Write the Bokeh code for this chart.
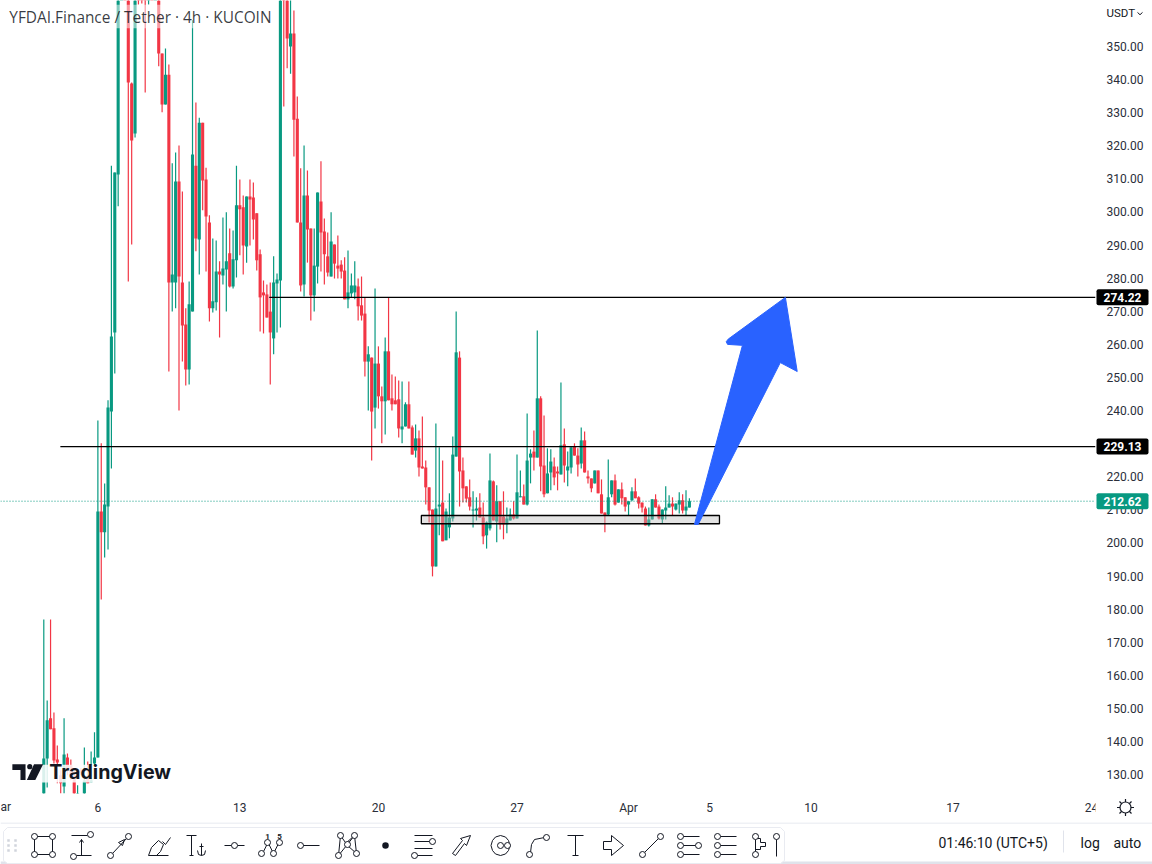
from bokeh.plotting import figure
from bokeh.layouts import column
from bokeh.models import Range1d, LinearAxis, FixedTicker, Label, ColumnDataSource, NumeralTickFormatter
from bokeh.core.properties import value
from bokeh.embed import file_html
from bokeh.resources import INLINE

body_top = [
134.9,146.4,147.0,144.0,134.6,129.8,136.1,135.2,132.8,129.8,
123.7,131.3,128.3,128.9,128.3,135.2,209.5,209.5,211.6,240.9,
262.4,311.9,370,385,385,372,338.8,368,380,378,
372,374,378,376,370,347.9,341.5,341.5,281.1,309.2,
309.2,278.7,266.0,272.1,317.4,314.0,327.0,327.0,309.8,296.8,
273.0,282.0,282.0,282.9,285.1,287.5,285.7,302.0,302.0,301.4,
304.7,304.7,304.4,299.6,287.2,275.7,275.1,269.9,278.7,279.6,
372,372,368,353.9,353.9,328.2,296.8,305.0,305.0,295.0,
283.8,305.9,303.2,294.1,286.6,291.1,290.2,283.8,284.1,282.3,
275.7,277.8,277.8,277.5,271.8,269.3,257.0,256.0,254.2,254.2,
244.3,257.9,257.9,243.7,243.1,243.4,235.2,241.9,241.9,234.9,
231.6,231.6,223.1,222.8,216.8,210.1,210.4,211.6,212.2,209.5,
207.7,226.7,257.6,256.0,221.9,217.1,213.8,210.1,210.4,210.7,
207.7,206.2,218.9,218.6,212.6,212.6,208.0,207.4,208.6,208.6,
215.3,214.1,214.1,224.9,227.0,227.6,243.7,243.7,223.4,221.0,
224.6,223.1,221.6,229.5,229.8,223.1,228.9,229.2,226.4,231.0,
231.0,220.1,219.5,221.9,221.9,214.7,209.2,213.8,218.9,218.9,
216.2,216.2,213.8,212.6,215.6,215.6,213.8,212.2,210.4,207.1,
213.2,213.2,211.0,210.1,210.7,211.9,211.9,211.9,212.9,212.9,
211.0,212.62]
body_bottom = [
122.2,134.9,143.7,134.3,133.7,127.4,126.4,131.3,129.8,123.7,
122.2,130.4,123.7,127.4,127.7,133.4,135.2,203.2,203.2,211.0,
239.7,263.6,311.3,370,372,339.1,321.6,323.7,366,368,
366,368,368,370,347.9,332.5,332.5,278.7,278.7,278.7,
280.5,265.7,252.4,252.4,269.9,292.0,291.7,309.5,298.6,270.9,
270.9,272.7,281.1,280.8,282.6,277.5,277.5,285.4,300.8,289.9,
289.6,303.8,297.7,285.4,274.2,274.8,268.1,263.6,261.8,278.4,
279.3,368,352.4,350.0,327.9,296.8,277.8,278.1,294.7,274.8,
274.8,283.5,293.8,287.2,281.7,280.5,284.4,282.9,282.0,273.6,
273.6,275.4,275.7,271.5,268.7,254.8,254.8,239.7,240.9,244.3,
242.8,242.8,243.1,241.9,241.9,234.6,234.3,235.2,234.6,226.7,
227.9,222.8,222.5,216.8,209.8,192.9,192.9,211.0,200.5,200.8,
204.7,207.4,226.1,221.6,216.5,213.4,211.0,209.8,209.8,207.7,
202.0,202.3,204.4,206.8,206.5,205.6,205.6,205.6,206.8,207.4,
207.4,213.8,211.6,211.6,225.8,225.8,225.8,223.1,214.7,215.0,
221.3,219.8,221.0,220.7,223.4,221.9,222.8,226.4,223.7,224.0,
221.3,219.5,216.5,218.0,215.0,208.9,208.3,208.6,214.7,211.6,
212.2,213.5,211.0,211.6,212.9,213.5,211.9,210.7,205.3,205.3,
207.1,210.7,207.4,207.1,209.8,210.7,211.0,210.1,211.6,209.8,
209.8,210.7]
highs = [
176.9,152.4,176.9,148.8,138.8,131.3,147.0,136.4,134.6,131.3,
126.8,131.9,138.2,134.0,137.0,142.8,237.0,230.1,218.0,243.1,
314.0,311.9,372,392,395,376,339.1,370,385,384,
380,378,386,380,376,347.9,349.4,344.6,314.7,318.0,
320.1,306.2,270.9,279.0,357.9,333.1,328.5,327.0,313.4,299.0,
292.0,291.4,285.1,298.3,299.9,295.0,294.4,314.0,309.8,305.0,
304.7,309.8,308.9,299.6,288.7,279.3,278.1,278.7,286.6,281.4,
376,376,372,366,360.9,334.9,313.2,320.1,312.5,295.0,
295.0,305.9,315.3,298.0,293.8,299.9,290.2,292.9,285.4,286.3,
288.4,281.4,285.1,279.9,280.5,274.2,259.4,256.0,276.9,259.4,
247.3,262.1,274.2,250.9,250.3,249.1,248.8,242.5,248.8,235.5,
235.8,234.0,238.2,224.9,216.8,210.1,236.1,228.9,224.9,210.4,
215.0,232.2,269.9,257.9,225.8,217.1,219.2,215.6,213.8,215.0,
212.2,206.5,227.0,218.9,217.4,212.6,215.6,210.7,210.4,212.6,
226.7,221.9,217.7,239.1,228.3,234.0,264.2,244.3,238.5,228.6,
228.3,225.8,223.1,248.5,234.6,227.6,228.9,230.1,228.6,234.9,
233.7,221.9,219.5,221.9,221.9,219.2,209.2,225.2,218.9,220.7,
216.2,218.3,213.8,212.6,216.8,219.5,214.1,212.2,211.0,210.7,
213.2,214.7,211.6,210.1,217.1,214.4,213.8,211.9,215.3,214.7,
215.9,213.5]
lows = [
121,126.1,143.7,133.4,127.4,124.3,124.3,129.8,128.3,123.7,
122,129.8,123.7,127.4,127.7,132.8,135.2,182.9,195.6,198.0,
222.5,251.2,301.7,366,368,279.0,290.2,322.5,362.7,363.0,
336.1,362.7,366,366,344.0,330.1,332.5,251.8,269.9,270.9,
240.0,254.8,247.6,247.9,269.9,288.1,281.1,300.5,282.0,266.9,
269.6,270.2,262.1,278.1,269.9,277.2,276.9,280.2,286.9,281.1,
284.7,289.9,291.7,282.3,263.9,263.3,268.1,247.9,257.0,263.6,
265.1,331.9,343.4,341.8,316.8,296.8,276.0,274.5,284.7,267.2,
269.9,278.4,282.0,278.1,280.5,280.5,279.9,279.9,279.9,273.6,
270.9,274.2,273.6,267.2,267.2,250.3,240.0,224.9,234.6,240.6,
230.1,232.8,243.1,240.0,241.9,231.9,230.1,235.2,234.6,226.7,
225.8,220.1,222.5,211.6,206.2,189.9,192.9,202.3,200.5,200.8,
201.4,206.5,226.1,211.0,212.2,212.2,209.8,204.7,206.8,207.7,
199.6,198.3,203.8,206.8,200.2,204.1,201.1,202.9,206.8,207.1,
207.4,213.8,211.6,211.3,218.0,221.9,225.8,215.6,213.8,215.0,
215.9,217.4,215.9,220.7,218.3,217.1,221.0,226.4,220.1,222.5,
221.3,218.0,215.3,218.0,215.0,208.9,203.2,208.3,213.8,211.3,
212.2,211.6,209.5,208.3,212.6,213.5,210.4,209.2,205.3,205.0,
207.1,210.7,207.1,205.9,207.1,210.7,208.3,209.8,208.9,208.9,
208.3,210.7]
direction = ("GGRRRRGRRR" "GRGRGGGRGG" "GGGGRRRGRR" "RGRGRRGRGG" "RRRGGRGRRR"
             "GGRGGRGGRR" "GRRRRRRRGG" "GRRGRRRGRR" "GGRRRGRRRR" "GGGRRRGRGR"
             "RGRRRRGGRR" "GRRRRRGGRG" "GGGRRRRGGR" "RGGRGRRGGR" "GGRGGRGRRG"
             "GRRGRGGRRG" "RRRGRRRGGR" "GRRGGRRRRG" "GRRGGGRGGR" "GG")
assert len(body_top) == len(body_bottom) == len(highs) == len(lows) == len(direction) == 192

price_ticks = [130,140,150,160,170,180,190,200,210,220,230,240,250,260,270,280,290,300,310,320,330,340,350]
time_ticks = {16: "6", 58: "13", 99: "20", 140: "27", 173: "Apr", 197: "5", 227: "10", 269: "17", 310: "24"}
level_high = 274.22
level_mid = 229.13
last_price = 212.62

GREEN, RED = "#089981", "#f23645"
INK = "#131722"
BAR_PX = 3.38
colors = [GREEN if d == "G" else RED for d in direction]
src = ColumnDataSource(dict(x=list(range(192)), top=body_top, bottom=body_bottom,
                            high=highs, low=lows, color=colors))

x0, x1 = -12.81, 311.15
p = figure(width=1152, height=822, x_range=Range1d(x0, x1), y_range=Range1d(124.3, 363.9),
           output_backend="svg", toolbar_location=None, x_axis_location=None, y_axis_location=None,
           min_border_left=0, min_border_top=0, min_border_right=57, min_border_bottom=29,
           outline_line_color=None, frame_align=False)
p.grid.visible = False

yax = LinearAxis(ticker=FixedTicker(ticks=price_ticks), axis_line_color=None,
                 major_tick_line_color=None, minor_tick_line_color=None,
                 major_tick_out=0, major_tick_in=0, minor_tick_out=0, minor_tick_in=0,
                 major_label_text_font="Roboto", major_label_text_font_size="12px",
                 major_label_text_color="#2a2e39", major_label_standoff=11)
yax.formatter = NumeralTickFormatter(format="0.00")
p.add_layout(yax, "right")
xax = LinearAxis(ticker=FixedTicker(ticks=list(time_ticks)), major_label_overrides=time_ticks,
                 axis_line_color=None, major_tick_line_color=None, minor_tick_line_color=None,
                 major_tick_out=0, major_tick_in=0, minor_tick_out=0, minor_tick_in=0,
                 major_label_text_font="Roboto", major_label_text_font_size="12px",
                 major_label_text_color="#2a2e39", major_label_standoff=7)
p.add_layout(xax, "below")

p.segment("x", "high", "x", "low", color="color", line_width=1.2, source=src)
p.vbar(x="x", top="top", bottom="bottom", width=3.1 / BAR_PX, fill_color="color", line_color=None, source=src)

# drawn objects
p.line([x0, x1], [last_price, last_price], line_color=GREEN, line_width=1, line_dash="1 2")
p.line([66.7, x1], [level_high, level_high], line_color="black", line_width=1.2)
p.line([4.9, x1], [level_mid, level_mid], line_color="black", line_width=1.2)
p.quad(left=[111.7], right=[199.9], top=[208.3], bottom=[205.8],
       fill_color="#b8b8b8", fill_alpha=0.4, line_color="black", line_width=1.3)
p.patch([192.5, 206.7, 202.3, 201.9, 202.5, 219.4, 222.9, 217.9, 193.6],
        [205.6, 259.7, 260.0, 260.8, 261.6, 274.2, 251.8, 254.5, 205.6],
        fill_color="#2962ff", line_color="#2962ff", line_width=1)

# legend veil and title
p.quad(left=[-11], right=[68], top=[362.6], bottom=[355.5], fill_color="white", fill_alpha=0.5, line_color=None)
p.add_layout(Label(x=-10.2, y=358.9, text="YFDAI.Finance / Tether · 4h · KUCOIN", text_font="Open Sans",
                   text_font_size="15.4px", text_color=INK, text_alpha=0.85, text_baseline="middle"))

# watermark
p.quad(left=[-9.5], right=[37.5], top=[133], bottom=[127.6], fill_color="white", fill_alpha=0.85, line_color=None)
p.patch([-9.3, -5.4, -5.4, -6.9, -6.9, -9.3], [133.1, 133.1, 128.4, 128.4, 131.4, 131.4], fill_color=INK, line_color=None)
p.patch([-2.9, -0.2, -2.5, -5.0], [133.1, 133.1, 128.4, 128.4], fill_color=INK, line_color=None)
p.scatter([-4.15], [132.4], size=5.2, marker="circle", fill_color=INK, line_color=None)
p.add_layout(Label(x=1.6, y=130.7, text="TradingView", text_font="Inter", text_font_size="19.7px",
                   text_font_style="bold", text_color=INK, text_baseline="middle"))

# --- drawing toolbar strip ---
t = figure(width=1152, height=42, x_range=Range1d(0, 1152), y_range=Range1d(864, 822),
           output_backend="svg", toolbar_location=None, x_axis_location=None, y_axis_location=None,
           min_border_left=0, min_border_right=0, min_border_top=0, min_border_bottom=0,
           outline_line_color=None, frame_align=False)
t.grid.visible = False
t.line([0, 1152], [822.5, 822.5], line_color="#e0e3eb", line_width=1)
t.quad(left=[0], right=[1152], top=[861], bottom=[864], fill_color="#e0e3eb", line_color=None)
t.patch([3, 7, 780, 784, 784, 780, 7, 3], [831, 827, 827, 831, 860, 863, 863, 860],
        fill_color="white", line_color="#e9ebf1", line_width=1)

dots_x = [8, 15, 8, 15, 8, 15]
dots_y = [840, 840, 845, 845, 850, 850]
t.scatter(dots_x, dots_y, size=2.5, marker="square", fill_color="#d1d4dc", line_color=None)

icons = [
 (43, [[(-9,-9),(9,-9),(9,9),(-9,9),(-9,-9)]], [(-9,-9),(9,-9),(9,9),(-9,9)]),
 (81, [[(-10,-10),(6,-10)],[(-5,10),(10,10)],[(0,-6),(0,10)],[(-2,-3),(0,-6),(2,-3)]], [(9,-11),(-8,11)]),
 (119, [[(-7,8),(7,-7)],[(-1,-3),(5,-6),(3,0),(-1,-3)]], [(-9,10),(9,-9)]),
 (158, [[(-10,10),(10,10)],[(-10,10),(-7,2),(0,-5),(5,-1),(2,6),(-2,10)],[(4,-4),(7,-1),(12,-8)]], []),
 (195, [[(-9,-10),(1,-10)],[(-4,-10),(-4,10)],[(-6,10),(-2,10)],[(6,-2),(6,10)],[(2,5),(3,9),(6,10),(9,9),(10,5)],[(4,1),(8,1)]], []),
 (234, [[(-10,0),(-3,0)],[(3,0),(10,0)]], [(0,0)]),
 (270, [[(-7,6),(-3,-2)],[(-2,-2),(2,6)],[(4,6),(8,-2)]], [(-9,8),(-3,-3),(3,8),(9,-3)]),
 (309, [[(-7,0),(10,0)]], [(-9,0)]),
 (347, [[(-7,-10),(-9,10)],[(-7,-10),(0,0),(9,8)],[(7,-10),(-9,10)],[(7,-10),(9,8)],[(-2,-2),(7,-10)]], [(-7,-10),(7,-10),(0,-1),(-9,10),(9,8)]),
 (423, [[(-9,-10),(9,-10)],[(-9,-4),(6,-4)],[(-9,3),(9,3)],[(-6,10),(9,10)]], [(9,-4),(-9,10)]),
 (461, [[(-9,8),(-6,10),(3,-2),(5,0),(9,-10),(-1,-7),(1,-5),(-9,8)]], []),
 (500, [[(-9.5,0),(-8,-5),(-5,-8.5),(0,-10),(5,-8.5),(8,-5),(9.5,0),(8,5),(5,8.5),(0,10),(-5,8.5),(-8,5),(-9.5,0)]], [(0,0),(7,0)]),
 (538, [[(-8,7),(-7,-1),(-4,-6),(6,-8)]], [(-9,9),(8,-8)]),
 (575, [[(-8,-10),(8,-10)],[(0,-10),(0,10)],[(-3,10),(3,10)]], []),
 (613, [[(-10,-4),(-2,-4),(-2,-10),(10,0),(-2,10),(-2,4),(-10,4),(-10,-4)]], []),
 (651, [[(-7,7),(7,-7)]], [(-9,9),(9,-9)]),
 (689, [[(-6,-9),(10,-9)],[(-6,0),(6,0)],[(-6,9),(10,9)]], [(-9,-9),(-9,0),(9,0),(-9,9)]),
 (726, [[(-6,-9),(10,-9)],[(-6,0),(10,0)],[(-6,9),(10,9)]], [(-9,-9),(-9,0),(-9,9)]),
 (757, [[(-2,-6),(-2,6)],[(-2,-7),(3,-7),(3,-3),(8,-3),(8,1),(3,1),(3,4),(-2,4)]], [(-2,-9),(-2,9)]),
 (776, [[(0,-6),(0,11)]], [(0,-9)]),
]
ICON_Y = 845
lx, ly, cx, cy = [], [], [], []
for ox, paths, circles in icons:
    for path in paths:
        lx.append([ox + a for a, b in path])
        ly.append([ICON_Y + b for a, b in path])
    for a, b in circles:
        cx.append(ox + a)
        cy.append(ICON_Y + b)
t.multi_line(lx, ly, line_color=INK, line_width=1)
t.scatter(cx, cy, size=6, marker="circle", fill_color="white", line_color=INK, line_width=1)
t.scatter([385], [845], size=6.5, marker="circle", fill_color=INK, line_color=None)
t.text([267, 279], [836, 836], text=["1", "5"], text_font=value("Roboto"), text_font_size="8px",
       text_font_style="bold", text_color=INK, text_align="center", text_baseline="middle")

t.text([938], [842], text=["01:46:10 (UTC+5)"], text_font=value("Roboto"), text_font_size="14px",
       text_color=INK, text_baseline="middle")
t.line([1063, 1063], [830, 852], line_color="#e0e3eb", line_width=1)
t.text([1080, 1113], [842, 842], text=["log", "auto"], text_font=value("Roboto"), text_font_size="14px",
       text_color=INK, text_baseline="middle")

# --- transparent overlay carrying the price tags and other texts that sit outside the plot frame ---
Y_TOP = 363.9
o = figure(width=1152, height=864, x_range=Range1d(0, 1152), y_range=Range1d(Y_TOP - 864 * 0.30211, Y_TOP),
           output_backend="svg", toolbar_location=None, x_axis_location=None, y_axis_location=None,
           min_border_left=0, min_border_right=0, min_border_top=0, min_border_bottom=0,
           outline_line_color=None, background_fill_alpha=0, border_fill_alpha=0,
           margin=(-864, 0, 0, 0), frame_align=False)
o.grid.visible = False
tag_v = [level_high, level_mid, last_price]
tag_c = ["black", "black", GREEN]
o.quad(left=[1095], right=[1100], top=[Y_TOP - 799 * 0.30211], bottom=[Y_TOP - 813 * 0.30211],
       fill_color="white", line_color=None)
o.rect(x=[1122, 1122, 1122], y=tag_v, width=52, height=16 * 0.30211, fill_color=tag_c, line_color=None,
       border_radius=2)
o.text([1122, 1122, 1122], tag_v, text=[f"{v:.2f}" for v in tag_v], text_font=value("Roboto"),
       text_font_size="12px", text_font_style="bold", text_color="white", text_align="center", text_baseline="middle")
o.text([1106], [360.0], text=["USDT"], text_font=value("Roboto"), text_font_size="11.5px",
       text_color=INK, text_baseline="middle")
o.line([1137, 1139.5, 1142], [360.3, 359.6, 360.3], line_color=INK, line_width=1)
o.text([0], [Y_TOP - 806 * 0.30211], text=["ar"], text_font=value("Roboto"), text_font_size="12px",
       text_color="#2a2e39", text_align="left", text_baseline="middle")
gear_y = Y_TOP - 807 * 0.30211
o.scatter([1125], [gear_y], size=17, marker="asterisk", line_color=INK, line_width=1.2)
o.scatter([1125], [gear_y], size=11, marker="circle", fill_color="white", line_color=INK, line_width=1.2)

page = column(p, t, o, spacing=0)
open("out.html", "w").write(file_html(page, INLINE))
